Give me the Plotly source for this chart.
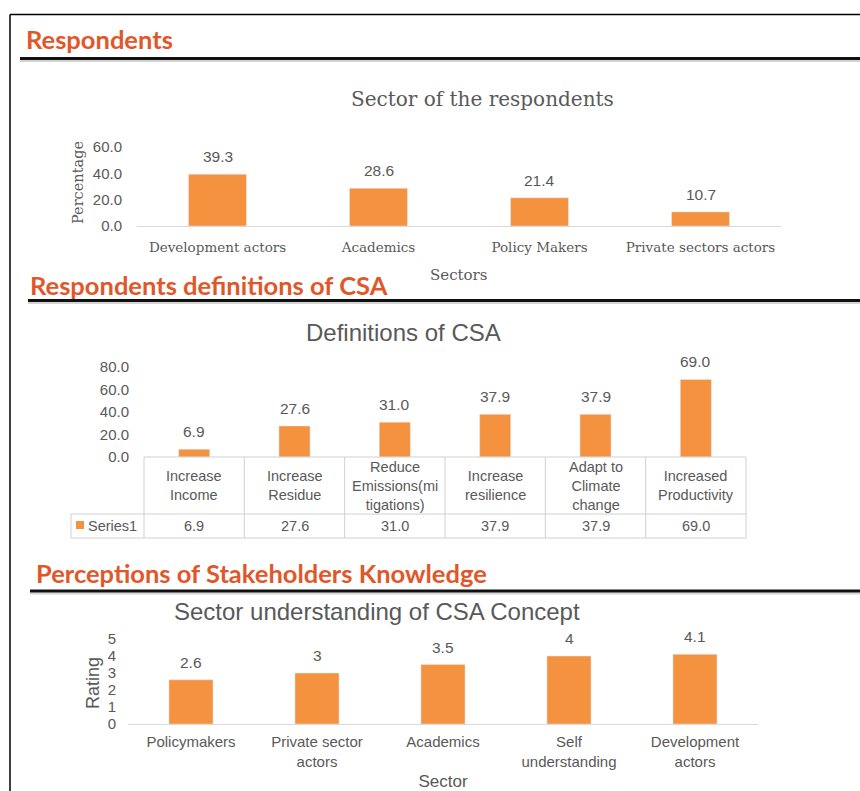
import plotly.graph_objects as go

W, H = 860, 791

# ---------------- data ----------------
sector_categories = ["Development actors", "Academics", "Policy Makers", "Private sectors actors"]
sector_values = [39.3, 28.6, 21.4, 10.7]

definition_categories = ["Increase Income", "Increase Residue", "Reduce Emissions(mitigations)",
                         "Increase resilience", "Adapt to Climate change", "Increased Productivity"]
definition_labels = ["Increase<br>Income", "Increase<br>Residue", "Reduce<br>Emissions(mi<br>tigations)",
                     "Increase<br>resilience", "Adapt to<br>Climate<br>change", "Increased<br>Productivity"]
definition_values = [6.9, 27.6, 31.0, 37.9, 37.9, 69.0]

understanding_categories = ["Policymakers", "Private sector actors", "Academics",
                            "Self understanding", "Development actors"]
understanding_labels = ["Policymakers", "Private sector<br>actors", "Academics",
                        "Self<br>understanding", "Development<br>actors"]
understanding_values = [2.6, 3, 3.5, 4, 4.1]

ORANGE = "#F4923F"
GRAY = "#595959"
HEAD = "#E0582A"
SANS = "Liberation Sans, Arial, sans-serif"
SERIF = "DejaVu Serif, serif"
HEADFONT = "Lato, Open Sans, sans-serif"


def px(x):
    return x / W


def py(y):
    return 1 - y / H


fig = go.Figure()

fig.add_trace(go.Bar(x=sector_categories, y=sector_values, marker_color=ORANGE, width=0.36,
                     xaxis="x", yaxis="y", showlegend=False, hoverinfo="x+y"))
fig.add_trace(go.Bar(x=definition_categories, y=definition_values, marker_color=ORANGE, width=0.31,
                     xaxis="x2", yaxis="y2", showlegend=False, hoverinfo="x+y"))
fig.add_trace(go.Bar(x=understanding_categories, y=understanding_values, marker_color=ORANGE, width=0.35,
                     xaxis="x3", yaxis="y3", showlegend=False, hoverinfo="x+y"))

D1x = [px(137), px(781)]
D1y = [py(226), py(147)]
D2x = [px(144), px(746)]
D2y = [py(457), py(367)]
D3x = [px(128), px(758)]
D3y = [py(724), py(639)]

ax_common = dict(showgrid=False, zeroline=False, fixedrange=True, automargin=False)

fig.update_layout(
    width=W, height=H, autosize=False,
    margin=dict(l=0, r=0, t=0, b=0, pad=0),
    paper_bgcolor="white", plot_bgcolor="white",
    xaxis=dict(domain=D1x, anchor="y", showline=True, linecolor="#d9d9d9", linewidth=1,
               ticks="", tickfont=dict(family=SERIF, size=13.5, color=GRAY),
               ticklabelstandoff=9, **ax_common),
    yaxis=dict(domain=D1y, anchor="x", range=[0, 60], dtick=20, tickformat=".1f",
               tickfont=dict(family=SANS, size=15, color=GRAY), ticklabelstandoff=14, **ax_common),
    xaxis2=dict(domain=D2x, anchor="y2", showticklabels=False, showline=False, **ax_common),
    yaxis2=dict(domain=D2y, anchor="x2", range=[0, 80], dtick=20, tickformat=".1f",
                tickfont=dict(family=SANS, size=15, color=GRAY), ticklabelstandoff=14, **ax_common),
    xaxis3=dict(domain=D3x, anchor="y3", showline=True, linecolor="#d9d9d9", linewidth=1,
                ticks="", tickmode="array", tickvals=understanding_categories,
                ticktext=understanding_labels,
                tickfont=dict(family=SANS, size=15, color=GRAY), ticklabelstandoff=4,
                title=dict(text="Sector", font=dict(family=SANS, size=17, color=GRAY), standoff=9),
                **ax_common),
    yaxis3=dict(domain=D3y, anchor="x3", range=[0, 5], dtick=1,
                tickfont=dict(family=SANS, size=15, color=GRAY), ticklabelstandoff=11, **ax_common),
)

shapes = []
ann = []

# data labels above bars (placed through each subplot's axes)
for xr, yr, cats, vals, fmt in [("x", "y", sector_categories, sector_values, "{:.1f}"),
                                ("x2", "y2", definition_categories, definition_values, "{:.1f}"),
                                ("x3", "y3", understanding_categories, understanding_values, "{:g}")]:
    for c, v in zip(cats, vals):
        ann.append(dict(text=fmt.format(v), xref=xr, yref=yr, x=c, y=v, yanchor="bottom",
                        xanchor="center", yshift=7, showarrow=False,
                        font=dict(family=SANS, size=15.5, color=GRAY)))

# outer frame
shapes.append(dict(type="line", xref="paper", yref="paper", x0=px(10), x1=px(870), y0=py(14.5), y1=py(14.5),
                   line=dict(color="black", width=1.5)))
shapes.append(dict(type="line", xref="paper", yref="paper", x0=px(10), x1=px(10), y0=py(14.5), y1=py(800),
                   line=dict(color="black", width=1.5)))

# section headers and rules
headers = [("Respondents", 24, 39, 58.5, 20),
           ("Respondents definitions of CSA", 28, 285, 300.5, 28),
           ("Perceptions of Stakeholders Knowledge", 34, 573, 591, 30)]
for text, hx, hy, ly, lx in headers:
    ann.append(dict(text=f"<b>{text}</b>", xref="paper", yref="paper", x=px(hx), y=py(hy),
                    xanchor="left", yanchor="middle", showarrow=False,
                    font=dict(family=HEADFONT, size=25.5, color=HEAD)))
    shapes.append(dict(type="line", xref="paper", yref="paper", x0=px(lx), x1=px(870), y0=py(ly + 2.5),
                       y1=py(ly + 2.5), line=dict(color="#d4d4d4", width=2)))
    shapes.append(dict(type="line", xref="paper", yref="paper", x0=px(lx), x1=px(870), y0=py(ly), y1=py(ly),
                       line=dict(color="#111111", width=3)))

# chart titles
ann.append(dict(text="Sector of the respondents", xref="paper", yref="paper", x=px(483), y=py(99),
                xanchor="center", yanchor="middle", showarrow=False,
                font=dict(family=SERIF, size=20, color=GRAY)))
ann.append(dict(text="Definitions of CSA", xref="paper", yref="paper", x=px(403), y=py(332),
                xanchor="center", yanchor="middle", showarrow=False,
                font=dict(family=SANS, size=24, color=GRAY)))
ann.append(dict(text="Sector understanding of CSA Concept", xref="paper", yref="paper", x=px(377), y=py(611),
                xanchor="center", yanchor="middle", showarrow=False,
                font=dict(family=SANS, size=24, color=GRAY)))

# axis titles
ann.append(dict(text="Percentage", xref="paper", yref="paper", x=px(78), y=py(183), textangle=-90,
                xanchor="center", yanchor="middle", showarrow=False,
                font=dict(family=SERIF, size=14.5, color=GRAY)))
ann.append(dict(text="Sectors", xref="paper", yref="paper", x=px(458), y=py(275),
                xanchor="center", yanchor="middle", showarrow=False,
                font=dict(family=SERIF, size=15, color=GRAY)))
ann.append(dict(text="Rating", xref="paper", yref="paper", x=px(93), y=py(683), textangle=-90,
                xanchor="center", yanchor="middle", showarrow=False,
                font=dict(family=SANS, size=18, color=GRAY)))

# data table under chart 2
TCOL = "#d0d0d0"
t_left, t_right = 144, 746
n = len(definition_categories)
colw = (t_right - t_left) / n
y_top, y_mid, y_bot = 457, 514, 538
shapes.append(dict(type="line", xref="paper", yref="paper", x0=px(t_left), x1=px(t_right),
                   y0=py(y_top), y1=py(y_top), line=dict(color=TCOL, width=1)))
for yy in (y_mid, y_bot):
    shapes.append(dict(type="line", xref="paper", yref="paper", x0=px(71), x1=px(t_right),
                       y0=py(yy), y1=py(yy), line=dict(color=TCOL, width=1)))
shapes.append(dict(type="line", xref="paper", yref="paper", x0=px(71), x1=px(71),
                   y0=py(y_mid), y1=py(y_bot), line=dict(color=TCOL, width=1)))
for i in range(n + 1):
    xx = t_left + i * colw
    shapes.append(dict(type="line", xref="paper", yref="paper", x0=px(xx), x1=px(xx),
                       y0=py(y_top), y1=py(y_bot), line=dict(color=TCOL, width=1)))
for cat, lab, v in zip(definition_categories, definition_labels, definition_values):
    ann.append(dict(text=lab, xref="x2", yref="paper", x=cat, y=py((y_top + y_mid) / 2),
                    xanchor="center", yanchor="middle", showarrow=False,
                    font=dict(family=SANS, size=14.5, color=GRAY)))
    ann.append(dict(text=f"{v:.1f}", xref="x2", yref="paper", x=cat, y=py((y_mid + y_bot) / 2),
                    xanchor="center", yanchor="middle", showarrow=False,
                    font=dict(family=SANS, size=14.5, color=GRAY)))
shapes.append(dict(type="rect", xref="paper", yref="paper", x0=px(76), x1=px(84), y0=py(529), y1=py(521),
                   fillcolor=ORANGE, line=dict(width=0)))
ann.append(dict(text="Series1", xref="paper", yref="paper", x=px(86), y=py(526),
                xanchor="left", yanchor="middle", showarrow=False,
                font=dict(family=SANS, size=14.5, color=GRAY)))

fig.update_layout(shapes=shapes, annotations=ann)

fig.write_html("out.html", config={"displayModeBar": False},
               post_script="document.body.style.margin='0';document.body.style.overflow='hidden';")
